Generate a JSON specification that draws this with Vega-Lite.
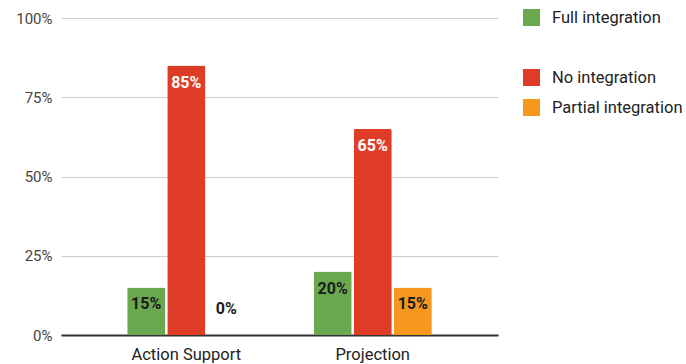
{
  "$schema": "https://vega.github.io/schema/vega-lite/v6.json",
  "width": 437,
  "height": 317,
  "autosize": {"type": "none"},
  "padding": {"left": 61, "top": 18, "right": 188, "bottom": 29},
  "background": "white",
  "config": {
    "font": "Roboto",
    "view": {"stroke": null},
    "axis": {"labelFont": "Roboto", "labelColor": "#444444"}
  },
  "data": {
    "values": [
      {"category": "Action Support", "series": "Full integration", "value": 0.15},
      {"category": "Action Support", "series": "No integration", "value": 0.85},
      {"category": "Action Support", "series": "Partial integration", "value": 0.0},
      {"category": "Projection", "series": "Full integration", "value": 0.20},
      {"category": "Projection", "series": "No integration", "value": 0.65},
      {"category": "Projection", "series": "Partial integration", "value": 0.15}
    ]
  },
  "encoding": {
    "x": {
      "field": "category",
      "type": "nominal",
      "sort": null,
      "scale": {"paddingInner": 0.366, "paddingOuter": 0.355},
      "axis": {
        "title": null,
        "labelAngle": 0,
        "labelFontSize": 16.5,
        "labelColor": "#222222",
        "labelPadding": 11,
        "ticks": false,
        "domainColor": "#333333",
        "domainWidth": 2,
        "grid": false
      }
    },
    "xOffset": {
      "field": "series",
      "type": "nominal",
      "sort": ["Full integration", "No integration", "Partial integration"],
      "scale": {"paddingInner": 0.05, "paddingOuter": 0}
    },
    "y": {
      "field": "value",
      "type": "quantitative",
      "scale": {"domain": [0, 1], "nice": false},
      "axis": {
        "title": null,
        "values": [0, 0.25, 0.5, 0.75, 1],
        "format": ".0%",
        "labelFontSize": 15,
        "labelPadding": 9,
        "ticks": false,
        "domain": false,
        "gridColor": "#cccccc",
        "gridWidth": 1
      }
    }
  },
  "layer": [
    {
      "mark": {"type": "bar", "cornerRadiusTopLeft": 2, "cornerRadiusTopRight": 2},
      "encoding": {
        "color": {
          "field": "series",
          "type": "nominal",
          "scale": {
            "domain": ["Full integration", " ", "No integration", "Partial integration"],
            "range": ["#6aa84f", "#ffffff", "#df3c27", "#f7981e"]
          },
          "legend": {
            "title": null,
            "orient": "none",
            "legendX": 462,
            "legendY": -9,
            "padding": 0,
            "symbolType": "square",
            "symbolSize": 289,
            "symbolStrokeWidth": 0,
            "labelFontSize": 16.5,
            "labelColor": "#222222",
            "labelFont": "Roboto",
            "labelOffset": 12,
            "rowPadding": 13
          }
        }
      }
    },
    {
      "transform": [{"filter": "datum.value > 0"}],
      "mark": {"type": "text", "baseline": "middle", "dy": 17, "fontWeight": "bold", "fontSize": 16, "font": "Roboto"},
      "encoding": {
        "text": {"field": "value", "type": "quantitative", "format": ".0%"},
        "color": {
          "condition": {"test": "datum.series == 'No integration'", "value": "#ffffff"},
          "value": "#1a1a1a"
        }
      }
    },
    {
      "transform": [{"filter": "datum.value == 0"}],
      "mark": {"type": "text", "baseline": "middle", "dy": -26, "fontWeight": "bold", "fontSize": 16, "font": "Roboto", "color": "#1a1a1a"},
      "encoding": {
        "text": {"field": "value", "type": "quantitative", "format": ".0%"}
      }
    }
  ],
  "resolve": {"scale": {"color": "independent"}}
}
